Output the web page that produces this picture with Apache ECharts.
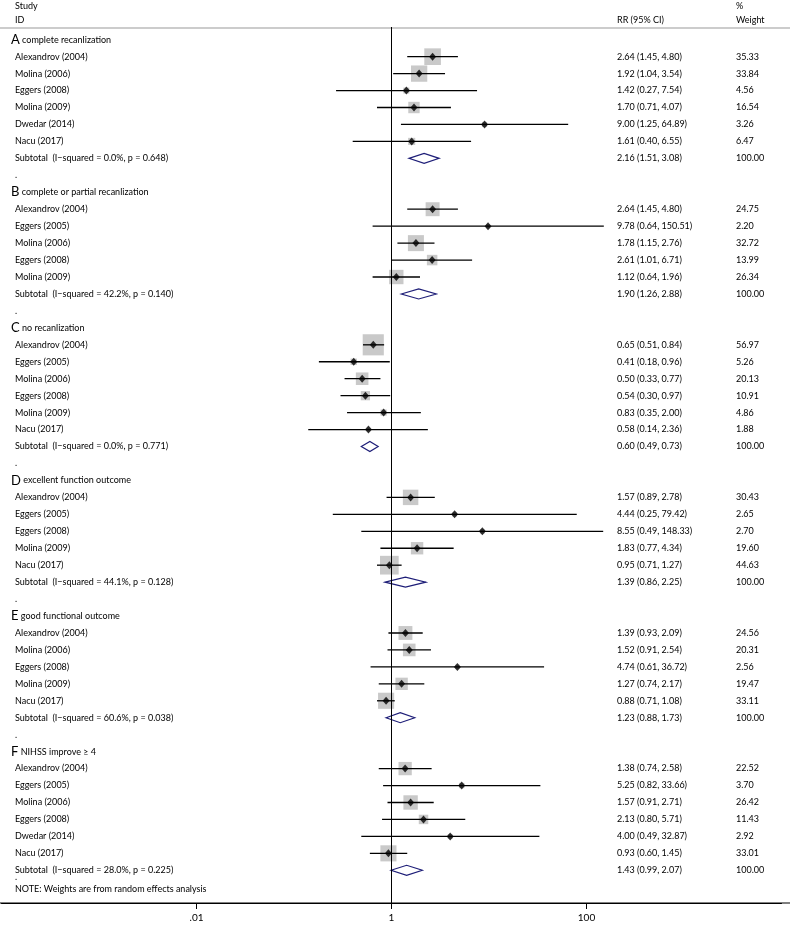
<!DOCTYPE html>
<html><head><meta charset="utf-8">
<script src="https://cdn.jsdelivr.net/npm/echarts@6/dist/echarts.min.js"></script>
<style>html,body{margin:0;padding:0;background:#fff}#c{width:792px;height:926px}</style>
</head><body><div id="c"></div>
<script>
// ---------- data ----------
const groupLetters = ['A', 'B', 'C', 'D', 'E', 'F'];
const groupTitles = ['complete recanlization', 'complete or partial recanlization', 'no recanlization',
  'excellent function outcome', 'good functional outcome', 'NIHSS improve \u2265 4'];
const studyGroup = [0,0,0,0,0,0, 1,1,1,1,1, 2,2,2,2,2,2, 3,3,3,3,3, 4,4,4,4,4, 5,5,5,5,5,5];
const studyNames = [
  'Alexandrov (2004)', 'Molina (2006)', 'Eggers (2008)', 'Molina (2009)', 'Dwedar (2014)', 'Nacu (2017)',
  'Alexandrov (2004)', 'Eggers (2005)', 'Molina (2006)', 'Eggers (2008)', 'Molina (2009)',
  'Alexandrov (2004)', 'Eggers (2005)', 'Molina (2006)', 'Eggers (2008)', 'Molina (2009)', 'Nacu (2017)',
  'Alexandrov (2004)', 'Eggers (2005)', 'Eggers (2008)', 'Molina (2009)', 'Nacu (2017)',
  'Alexandrov (2004)', 'Molina (2006)', 'Eggers (2008)', 'Molina (2009)', 'Nacu (2017)',
  'Alexandrov (2004)', 'Eggers (2005)', 'Molina (2006)', 'Eggers (2008)', 'Dwedar (2014)', 'Nacu (2017)'
];
const studyRR = [2.64, 1.92, 1.42, 1.70, 9.00, 1.61,
  2.64, 9.78, 1.78, 2.61, 1.12,
  0.65, 0.41, 0.50, 0.54, 0.83, 0.58,
  1.57, 4.44, 8.55, 1.83, 0.95,
  1.39, 1.52, 4.74, 1.27, 0.88,
  1.38, 5.25, 1.57, 2.13, 4.00, 0.93];
const studyLo = [1.45, 1.04, 0.27, 0.71, 1.25, 0.40,
  1.45, 0.64, 1.15, 1.01, 0.64,
  0.51, 0.18, 0.33, 0.30, 0.35, 0.14,
  0.89, 0.25, 0.49, 0.77, 0.71,
  0.93, 0.91, 0.61, 0.74, 0.71,
  0.74, 0.82, 0.91, 0.80, 0.49, 0.60];
const studyHi = [4.80, 3.54, 7.54, 4.07, 64.89, 6.55,
  4.80, 150.51, 2.76, 6.71, 1.96,
  0.84, 0.96, 0.77, 0.97, 2.00, 2.36,
  2.78, 79.42, 148.33, 4.34, 1.27,
  2.09, 2.54, 36.72, 2.17, 1.08,
  2.58, 33.66, 2.71, 5.71, 32.87, 1.45];
const studyWeight = [35.33, 33.84, 4.56, 16.54, 3.26, 6.47,
  24.75, 2.20, 32.72, 13.99, 26.34,
  56.97, 5.26, 20.13, 10.91, 4.86, 1.88,
  30.43, 2.65, 2.70, 19.60, 44.63,
  24.56, 20.31, 2.56, 19.47, 33.11,
  22.52, 3.70, 26.42, 11.43, 2.92, 33.01];
const subtotalHet = ['I\u2212squared = 0.0%, p = 0.648', 'I\u2212squared = 42.2%, p = 0.140',
  'I\u2212squared = 0.0%, p = 0.771', 'I\u2212squared = 44.1%, p = 0.128',
  'I\u2212squared = 60.6%, p = 0.038', 'I\u2212squared = 28.0%, p = 0.225'];
const subtotalRR = [2.16, 1.90, 0.60, 1.39, 1.23, 1.43];
const subtotalLo = [1.51, 1.26, 0.49, 0.86, 0.88, 0.99];
const subtotalHi = [3.08, 2.88, 0.73, 2.25, 1.73, 2.07];
const subtotalWeight = [100.00, 100.00, 100.00, 100.00, 100.00, 100.00];
const xTickValues = [0.01, 1, 100];
const xTickLabels = ['.01', '1', '100'];
const noteText = 'NOTE: Weights are from random effects analysis';

// ---------- row layout ----------
const rows = [];
let r = 0;
groupLetters.forEach((g, gi) => {
  rows.push({kind: 'header', gi: gi, row: r++});
  studyGroup.forEach((sg, si) => { if (sg === gi) rows.push({kind: 'study', si: si, row: r++}); });
  rows.push({kind: 'subtotal', gi: gi, row: r++});
  if (gi < groupLetters.length - 1) rows.push({kind: 'dot', row: r++});
});
rows.push({kind: 'note', row: r++});

const rowOfStudy = {};
const rowOfSub = {};
rows.forEach(o => { if (o.kind === 'study') rowOfStudy[o.si] = o.row; if (o.kind === 'subtotal') rowOfSub[o.gi] = o.row; });

const fmt = v => v.toFixed(2);
const ciText = (m, l, h) => fmt(m) + ' (' + fmt(l) + ', ' + fmt(h) + ')';

const FONT = 'Lato';
const FS = 9;
const X_STUDY = 15, X_LETTER = 11, X_RR = 617, X_W = 736;

const studyIdx = studyRR.map((_, i) => i);
const subIdx = subtotalRR.map((_, i) => i);

const chart = echarts.init(document.getElementById('c'), null, {renderer: 'canvas'});
chart.setOption({
  animation: false,
  backgroundColor: '#fff',
  grid: {left: 1.5, right: 10.5, top: 27, bottom: 23},
  xAxis: {
    type: 'log', logBase: 10, min: 0.0001, max: 10000, position: 'bottom',
    axisLine: {show: true, onZero: false, lineStyle: {color: '#000', width: 1}},
    axisTick: {show: true, customValues: xTickValues, length: 6, lineStyle: {color: '#000', width: 1}},
    axisLabel: {show: true, customValues: xTickValues, fontSize: 10, fontFamily: FONT, color: '#000', margin: 10,
      formatter: v => { const k = xTickValues.findIndex(t => Math.abs(Math.log10(t) - Math.log10(v)) < 1e-6); return k >= 0 ? xTickLabels[k] : ''; }},
    splitLine: {show: false}, minorTick: {show: false}
  },
  yAxis: {type: 'value', inverse: true, min: -0.75, max: 50.93, show: false},
  graphic: [
    {type: 'line', shape: {x1: 0, y1: 28, x2: 790, y2: 28}, style: {stroke: '#cccccc', lineWidth: 2}, z: 0},
    {type: 'line', shape: {x1: 0, y1: 903, x2: 790, y2: 903}, style: {stroke: '#000', lineWidth: 1}, z: 0},
    {type: 'text', x: X_STUDY, y: 6, style: {text: 'Study', fontSize: FS, fontFamily: FONT, fill: '#000', verticalAlign: 'middle'}},
    {type: 'text', x: X_STUDY, y: 20, style: {text: 'ID', fontSize: FS, fontFamily: FONT, fill: '#000', verticalAlign: 'middle'}},
    {type: 'text', x: X_RR, y: 20, style: {text: 'RR (95% CI)', fontSize: FS, fontFamily: FONT, fill: '#000', verticalAlign: 'middle'}},
    {type: 'text', x: X_W, y: 6, style: {text: '%', fontSize: FS, fontFamily: FONT, fill: '#000', verticalAlign: 'middle'}},
    {type: 'text', x: X_W, y: 20, style: {text: 'Weight', fontSize: FS, fontFamily: FONT, fill: '#000', verticalAlign: 'middle'}}
  ],
  series: [
    { // weight squares
      type: 'scatter', silent: true, z: 2,
      data: studyIdx.map(i => [studyRR[i], rowOfStudy[i], studyWeight[i]]),
      symbol: 'rect',
      symbolSize: v => 2.8 * Math.sqrt(v[2]),
      itemStyle: {color: '#bcbcbc'}
    },
    { // CI lines
      type: 'custom', silent: true, z: 3,
      data: studyIdx.map(i => [studyLo[i], studyHi[i], rowOfStudy[i]]),
      encode: {x: [0, 1], y: 2},
      renderItem: (params, api) => {
        const p1 = api.coord([api.value(0), api.value(2)]);
        const p2 = api.coord([api.value(1), api.value(2)]);
        return {type: 'line', shape: {x1: p1[0], y1: p1[1], x2: p2[0], y2: p2[1]}, style: {stroke: '#000', lineWidth: 1.3}};
      },
      markLine: {
        silent: true, symbol: 'none', label: {show: false}, animation: false,
        lineStyle: {color: '#000', width: 1, type: 'solid'},
        data: [{xAxis: 1}]
      }
    },
    { // point estimates
      type: 'scatter', silent: true, z: 4,
      data: studyIdx.map(i => [studyRR[i], rowOfStudy[i]]),
      symbol: 'diamond', symbolSize: [7, 8],
      itemStyle: {color: '#000'}
    },
    { // subtotal diamonds
      type: 'custom', silent: true, z: 4,
      data: subIdx.map(g => [subtotalRR[g], subtotalLo[g], subtotalHi[g], rowOfSub[g]]),
      encode: {x: [0, 1, 2], y: 3},
      renderItem: (params, api) => {
        const row = api.value(3);
        const c = api.coord([api.value(0), row]);
        const l = api.coord([api.value(1), row]);
        const h = api.coord([api.value(2), row]);
        const hh = 5;
        return {type: 'polygon', shape: {points: [[l[0], c[1]], [c[0], c[1] - hh], [h[0], c[1]], [c[0], c[1] + hh]]},
          style: {fill: '#fff', stroke: '#1e1e78', lineWidth: 1.2}};
      }
    },
    { // text columns
      type: 'custom', silent: true, z: 5,
      data: rows.map(o => [1, o.row]),
      encode: {x: 0, y: 1},
      renderItem: (params, api) => {
        const o = rows[params.dataIndex];
        const y = api.coord([1, o.row])[1];
        const base = {fontSize: FS, fontFamily: FONT, fill: '#000', verticalAlign: 'middle', align: 'left'};
        const t = (x, yy, text) => ({type: 'text', x: x, y: yy, style: Object.assign({}, base, {text: text})});
        const children = [];
        if (o.kind === 'header') {
          children.push({type: 'text', x: X_LETTER, y: y, style: Object.assign({}, base, {
            text: '{L|' + groupLetters[o.gi] + '} ' + groupTitles[o.gi],
            rich: {L: {fontSize: 13, fontFamily: FONT, fill: '#000', verticalAlign: 'middle'}}
          })});
        } else if (o.kind === 'study') {
          const i = o.si;
          children.push(t(X_STUDY, y, studyNames[i]));
          children.push(t(X_RR, y, ciText(studyRR[i], studyLo[i], studyHi[i])));
          children.push(t(X_W, y, fmt(studyWeight[i])));
        } else if (o.kind === 'subtotal') {
          const g = o.gi;
          children.push(t(X_STUDY, y, 'Subtotal  (' + subtotalHet[g] + ')'));
          children.push(t(X_RR, y, ciText(subtotalRR[g], subtotalLo[g], subtotalHi[g])));
          children.push(t(X_W, y, fmt(subtotalWeight[g])));
        } else if (o.kind === 'dot') {
          children.push(t(X_STUDY, y, '.'));
        } else if (o.kind === 'note') {
          children.push(t(X_STUDY, y - 10, '.'));
          children.push(t(X_STUDY, y + 2, noteText));
        }
        return {type: 'group', children: children};
      }
    }
  ]
});
</script>
</body></html>
